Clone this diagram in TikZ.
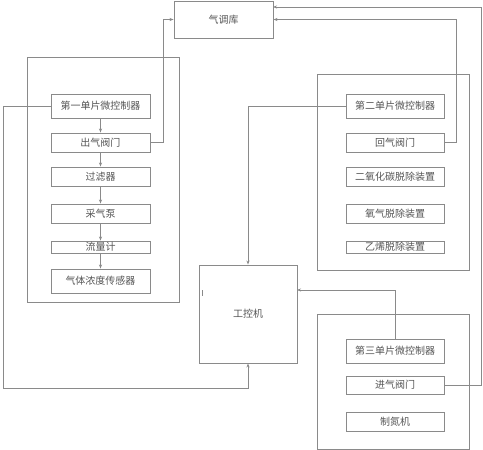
\documentclass[tikz,border=0pt]{standalone}
\usepackage{fontspec}
\setmainfont{Noto Sans CJK SC}
\usetikzlibrary{arrows.meta}
\definecolor{lc}{HTML}{8A8A8A}
\definecolor{tc}{HTML}{555555}
\tikzset{
  box/.style={draw=lc, line width=0.9pt, inner sep=0pt, text=tc, font=\fontsize{10}{12}\selectfont},
  grp/.style={draw=lc, line width=0.9pt, inner sep=0pt},
  conn/.style={draw=lc, line width=0.9pt, -{Stealth[length=4pt,width=3pt]}},
  wire/.style={draw=lc, line width=0.9pt}
}
\begin{document}
\begin{tikzpicture}[x=1pt,y=-1pt]
\useasboundingbox (0,0) rectangle (483,450);
% group boxes
\node[grp, minimum width=152pt, minimum height=245pt] (g1) at (103,179.5) {};
\node[grp, minimum width=152pt, minimum height=196pt] (g2) at (393,172) {};
\node[grp, minimum width=152pt, minimum height=135pt] (g3) at (393,381.5) {};
% main boxes
\node[box, minimum width=99pt, minimum height=37pt] (kq) at (223.5,19.5) {气调库};
\node[box, minimum width=98pt, minimum height=98pt] (gk) at (248,314) {工控机};
\draw[lc, line width=0.5pt] (202,290) -- (202,296);
% group 1
\node[box, minimum width=99pt, minimum height=24pt] (m1) at (100.5,106) {第一单片微控制器};
\node[box, minimum width=99pt, minimum height=19pt] (cq) at (100.5,142.5) {出气阀门};
\node[box, minimum width=99pt, minimum height=19pt] (gl) at (100.5,176.5) {过滤器};
\node[box, minimum width=99pt, minimum height=19pt] (cb) at (100.5,213.5) {采气泵};
\node[box, minimum width=99pt, minimum height=12pt] (ll) at (100.5,247) {流量计};
\node[box, minimum width=99pt, minimum height=24pt] (cg) at (100.5,281) {气体浓度传感器};
% group 2
\node[box, minimum width=98pt, minimum height=24pt] (m2) at (395,106) {第二单片微控制器};
\node[box, minimum width=98pt, minimum height=19pt] (hq) at (395,142.5) {回气阀门};
\node[box, minimum width=98pt, minimum height=19pt] (co) at (395,176.5) {二氧化碳脱除装置};
\node[box, minimum width=98pt, minimum height=19pt] (oq) at (395,213.5) {氧气脱除装置};
\node[box, minimum width=98pt, minimum height=12pt] (yx) at (395,247) {乙烯脱除装置};
% group 3
\node[box, minimum width=98pt, minimum height=24pt] (m3) at (395,351) {第三单片微控制器};
\node[box, minimum width=98pt, minimum height=18pt] (jq) at (395,385) {进气阀门};
\node[box, minimum width=98pt, minimum height=19pt] (zd) at (395,421.5) {制氮机};
% chain arrows
\draw[conn] (m1) -- (cq);
\draw[conn] (cq) -- (gl);
\draw[conn] (gl) -- (cb);
\draw[conn] (cb) -- (ll);
\draw[conn] (ll) -- (cg);
% to storage
\draw[conn] (cq.east) -- (163,142.5) |- (kq.west);
\draw[conn] (hq.east) -- (456,142.5) |- (kq.east);
\coordinate (kqt) at (273,7);
\draw[conn] (jq.east) -- (481,385) |- (kqt);
% to controller
\coordinate (gkr) at (297,290);
\draw[conn] (m1.west) -- (3,106) -- (3,388) -| (gk.south);
\draw[conn] (m2.west) -| (gk.north);
\draw[conn] (m3.north) |- (gkr);
\end{tikzpicture}
\end{document}
